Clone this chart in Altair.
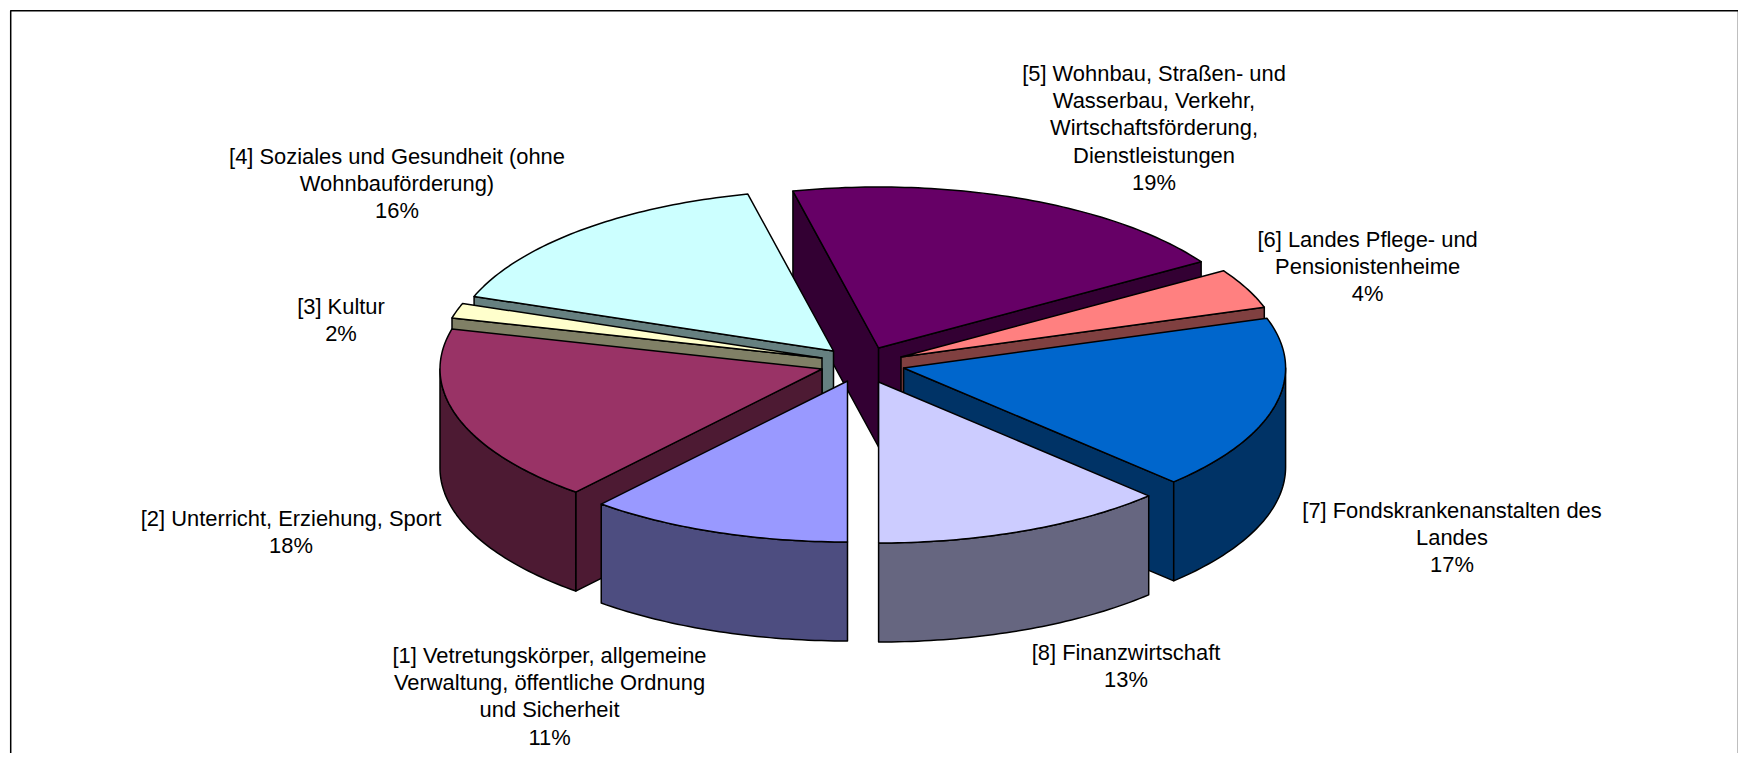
import numpy as np
import altair as alt

# --- chart values (in reference order) ---
categories = [
    ["[1] Vetretungskörper, allgemeine", "Verwaltung, öffentliche Ordnung", "und Sicherheit"],
    ["[2] Unterricht, Erziehung, Sport"],
    ["[3] Kultur"],
    ["[4] Soziales und Gesundheit (ohne", "Wohnbauförderung)"],
    ["[5] Wohnbau, Straßen- und", "Wasserbau, Verkehr,", "Wirtschaftsförderung,", "Dienstleistungen"],
    ["[6] Landes Pflege- und", "Pensionistenheime"],
    ["[7] Fondskrankenanstalten des", "Landes"],
    ["[8] Finanzwirtschaft"],
]
percent_labels = [11, 18, 2, 16, 19, 4, 17, 13]
# shares (round to the labels)
shares = [11.15, 17.85, 1.5, 15.9, 19.6, 4.0, 17.5, 12.5]

# --- styling / layout ---
top_colors = ["#9999FF", "#993366", "#FFFFCC", "#CCFFFF", "#660066", "#FF8080", "#0066CC", "#CCCCFF"]
wall_colors = ["#4D4D80", "#4D1A33", "#808066", "#668080", "#330033", "#804040", "#003366", "#666680"]
centers = [(847.5, 381), (822, 369), (822, 358), (833.5, 351), (878.6, 348), (901, 357), (903.6, 368), (878.6, 382)]
label_pos = [(549.5, 656), (291, 519), (341, 307), (397, 157), (1154, 74), (1367.6, 240), (1452, 511), (1126, 653)]
RX, RY, DEPTH = 382, 161, 99
LINE_STEP = 27.2
FONT_SIZE = 21.9
paint_order = [4, 5, 6, 3, 2, 1, 7, 0]
PAGE_W, PAGE_H = 1730, 745
start_angle = 180.0

edges = start_angle + 3.6 * np.concatenate([[0], np.cumsum(shares)])


def pt(center, t):
    r = np.radians(t)
    return [center[0] + RX * np.sin(r), center[1] - RY * np.cos(r)]


def arc(center, t1, t2):
    n = max(2, int(abs(t2 - t1)) + 2)
    return [pt(center, t) for t in np.linspace(t1, t2, n)]


def down(p):
    return [p[0], p[1] + DEPTH]


def feature(ring, fill):
    ring = [[float(a), float(b)] for a, b in ring]
    ring.append(ring[0])
    return {"type": "Feature",
            "geometry": {"type": "Polygon", "coordinates": [ring]},
            "properties": {"fill": fill}}


features = [feature([(10.7, 10.7), (1738.5, 10.7), (1738.5, 800), (10.7, 800)], "#FFFFFF")]

for i in paint_order:
    c = centers[i]
    t1, t2 = edges[i], edges[i + 1]
    # a cut face shows only when it turns towards the viewer
    if 180 < t1 % 360 < 360:
        p = pt(c, t1)
        features.append(feature([c, p, down(p), down(c)], wall_colors[i]))
    if 0 < t2 % 360 < 180:
        p = pt(c, t2)
        features.append(feature([c, p, down(p), down(c)], wall_colors[i]))
    # outer rim: only the part that faces the viewer
    for shift in (0, 360):
        a, b = max(t1, 90 + shift), min(t2, 270 + shift)
        if b > a:
            top = arc(c, a, b)
            features.append(feature(top + [down(p) for p in reversed(top)], wall_colors[i]))
    features.append(feature([c] + arc(c, t1, t2), top_colors[i]))

rows = []
for lines, pct, (x, y) in zip(categories, percent_labels, label_pos):
    for k, line in enumerate(lines + [f"{pct}%"]):
        rows.append({"x": x, "y": y + k * LINE_STEP, "text": line})

pie = (
    alt.Chart(alt.Data(values=features))
    .mark_geoshape(stroke="#000000", strokeWidth=1.5, strokeJoin="round")
    .encode(fill=alt.Fill("properties.fill:N", scale=None))
    .project(type="identity", scale=1, translate=[-8, -8])
)

text = (
    alt.Chart(alt.Data(values=rows))
    .mark_text(font="Liberation Sans", fontSize=FONT_SIZE, color="#000000", align="center", baseline="middle")
    .encode(
        x=alt.X("x:Q", axis=None, scale=alt.Scale(domain=[8, 8 + PAGE_W], range=[0, PAGE_W])),
        y=alt.Y("y:Q", axis=None, scale=alt.Scale(domain=[8, 8 + PAGE_H], range=[0, PAGE_H])),
        text="text:N",
    )
)

chart = (
    alt.layer(pie, text)
    .properties(width=PAGE_W, height=PAGE_H, padding=0, autosize=alt.AutoSizeParams(type="none"))
    .configure_view(stroke=None)
)
chart.save("out.html", embed_options={"renderer": "svg", "actions": False})
